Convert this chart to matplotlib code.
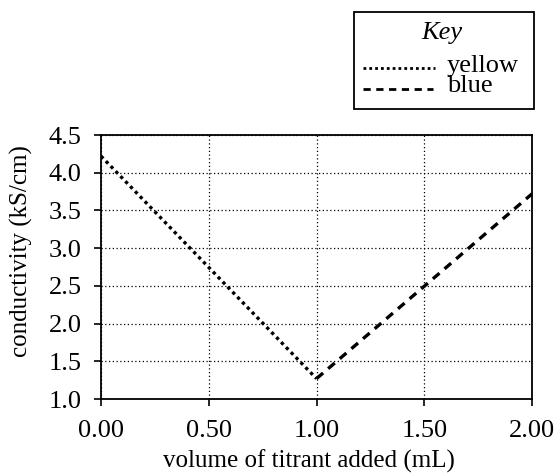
import matplotlib
matplotlib.use("Agg")
import matplotlib.pyplot as plt
from matplotlib.lines import Line2D
from matplotlib.patches import Rectangle

plt.rcParams['font.family'] = ['Liberation Serif', 'DejaVu Serif']

# data
yellow_x = [0.0, 1.0]
yellow_y = [4.22, 1.27]
blue_x = [1.0, 2.0]
blue_y = [1.27, 3.72]

x_ticks = [0.0, 0.5, 1.0, 1.5, 2.0]
x_labels = ['0.00', '0.50', '1.00', '1.50', '2.00']
y_ticks = [1.0, 1.5, 2.0, 2.5, 3.0, 3.5, 4.0, 4.5]

W, H = 556, 475
dotted = (0, (1, 1.1))
dashed = (0, (2.6, 2.0))

fig = plt.figure(figsize=(W/100, H/100), dpi=100)
ax = fig.add_axes([101/W, 1 - 399/H, (532-101)/W, (399-135)/H])

ax.plot(yellow_x, yellow_y, color='black', linestyle=dotted, linewidth=2.4)
ax.plot(blue_x, blue_y, color='black', linestyle=dashed, linewidth=2.4)

ax.set_xlim(0, 2)
ax.set_ylim(1, 4.5)
ax.set_xticks(x_ticks)
ax.set_xticklabels(x_labels)
ax.set_yticks(y_ticks)
ax.set_yticklabels([f'{v:.1f}' for v in y_ticks])
ax.tick_params(axis='x', labelsize=19, pad=10)
ax.tick_params(axis='y', labelsize=19, pad=9)
ax.tick_params(direction='out', length=5, width=1.2, color='black')
ax.grid(True, color='black', linestyle=(0, (1, 2)), linewidth=0.9)
for s in ax.spines.values():
    s.set_linewidth(1.3)

ax.set_xlabel('volume of titrant added (mL)', fontsize=18)
ax.set_ylabel('conductivity (kS/cm)', fontsize=18)
ax.xaxis.set_label_coords(0.483, -0.193)
ax.yaxis.set_label_coords(-0.158, 0.56)

# key box, drawn in pixel coords of the figure
def fx(px):
    return px / W

def fy(py):
    return 1 - py / H

fig.patches.append(Rectangle((fx(354), fy(109)), fx(534) - fx(354), fy(12) - fy(109),
                             transform=fig.transFigure, fill=False,
                             edgecolor='black', linewidth=1.3))
fig.text(fx(442), fy(33), 'Key', fontsize=19, style='italic', ha='center', va='center')
fig.lines.append(Line2D([fx(363), fx(435)], [fy(68), fy(68)], transform=fig.transFigure,
                        color='black', linestyle=dotted, linewidth=2.0))
fig.lines.append(Line2D([fx(363), fx(433)], [fy(89), fy(89)], transform=fig.transFigure,
                        color='black', linestyle=dashed, linewidth=2.0))
fig.text(fx(447), fy(66), 'yellow', fontsize=19, ha='left', va='center')
fig.text(fx(447), fy(86), 'blue', fontsize=19, ha='left', va='center')

fig.savefig('out.png', dpi=100)
